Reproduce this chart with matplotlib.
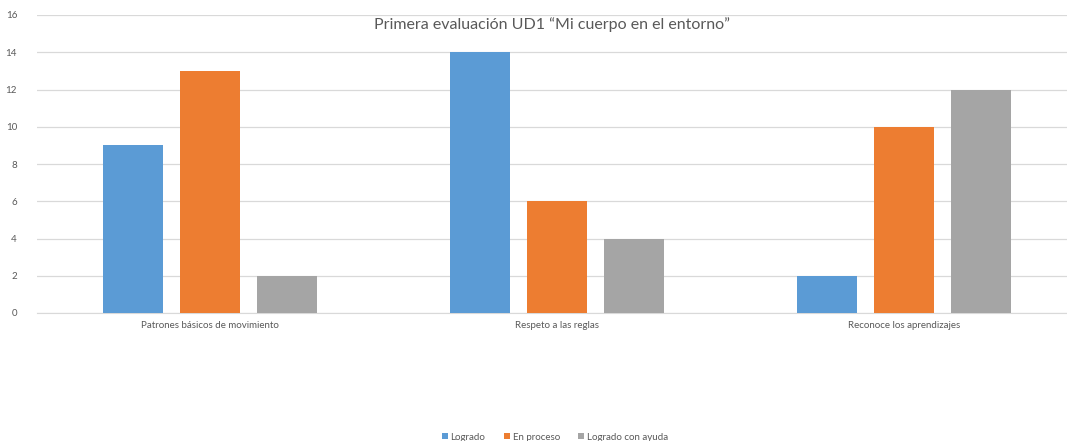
import matplotlib
matplotlib.use('Agg')
import matplotlib.pyplot as plt
import numpy as np

plt.rcParams['font.family'] = ['Lato', 'DejaVu Sans']

# datos
categorias = ['Patrones básicos de movimiento', 'Respeto a las reglas', 'Reconoce los aprendizajes']
series = ['Logrado', 'En proceso', 'Logrado con ayuda']
logrado = [9, 14, 2]
en_proceso = [13, 6, 10]
con_ayuda = [2, 4, 12]
colores = ['#5B9BD5', '#ED7D31', '#A5A5A5']

fig = plt.figure(figsize=(10.67, 4.41), dpi=100)
ax = fig.add_axes([36.5 / 1067, 1 - 313 / 441, 1 - 36.5 / 1067, (313 - 15) / 441])

x = np.arange(len(categorias))
ancho = 0.173
paso = 0.222
for i, (nombre, valores) in enumerate(zip(series, [logrado, en_proceso, con_ayuda])):
    ax.bar(x + (i - 1) * paso, valores, ancho, color=colores[i], label=nombre, zorder=3)

ax.set_ylim(0, 16)
ax.set_yticks(range(0, 17, 2))
ax.set_xlim(-0.5, 2.5 - 10.5 / 347)
ax.set_xticks(x)
ax.set_xticklabels(categorias)
ax.grid(axis='y', color='#D9D9D9', linewidth=0.9, zorder=0)
for s in ['top', 'right', 'left']:
    ax.spines[s].set_visible(False)
ax.spines['bottom'].set_color('#D9D9D9')
ax.tick_params(axis='both', length=0, labelsize=7, labelcolor='#595959')
ax.tick_params(axis='y', pad=14)
ax.tick_params(axis='x', pad=6)

ax.text(0.5, 0.993, 'Primera evaluación UD1 “Mi cuerpo en el entorno”', transform=ax.transAxes,
        ha='center', va='top', fontsize=11.5, color='#595959')

fig.legend(loc='center', bbox_to_anchor=(555 / 1067, 1 - 437 / 441), ncol=3, frameon=False,
           fontsize=7, labelcolor='#595959', handlelength=0.6, handleheight=0.6,
           handletextpad=0.3, columnspacing=1.9)

fig.savefig('out.png', dpi=100)
